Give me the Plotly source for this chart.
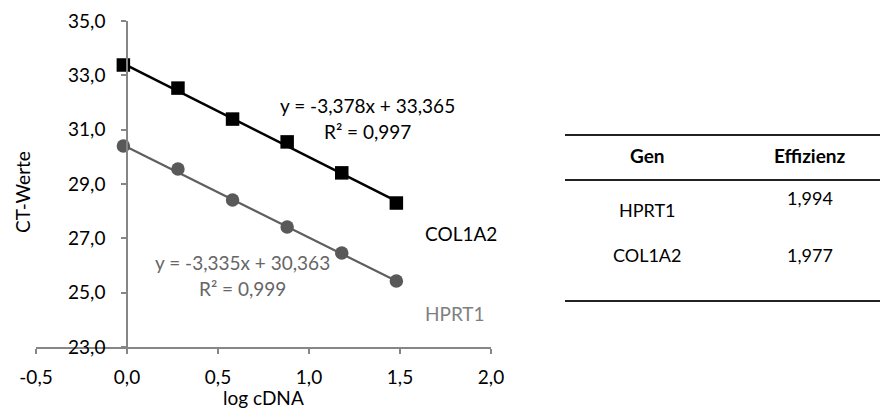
import plotly.graph_objects as go

# ---- data ----
log_cdna = [-0.02, 0.28, 0.58, 0.88, 1.18, 1.48]
ct_col1a2 = [33.38, 32.53, 31.39, 30.55, 29.41, 28.30]
ct_hprt1 = [30.40, 29.55, 28.41, 27.42, 26.46, 25.43]
fit_slopes = {"COL1A2": -3.378, "HPRT1": -3.335}
fit_intercepts = {"COL1A2": 33.365, "HPRT1": 30.363}
fit_r2 = {"COL1A2": "0,997", "HPRT1": "0,999"}

x_tickvals = [-0.5, 0.0, 0.5, 1.0, 1.5, 2.0]
x_ticktext = ["-0,5", "0,0", "0,5", "1,0", "1,5", "2,0"]
y_tickvals = [23, 25, 27, 29, 31, 33, 35]
y_ticktext = ["23,0", "25,0", "27,0", "29,0", "31,0", "33,0", "35,0"]

table_header = ["Gen", "Effizienz"]
table_genes = ["HPRT1", "COL1A2"]
table_eff = ["1,994", "1,977"]

W, H = 880, 408
FONT = "Lato"
FS = 19
TFS = 18


def px(x):
    return x / W


def py(y):
    return 1 - y / H


def num(v):
    return f"{v:.3f}".replace(".", ",")


fig = go.Figure()


def fitline(name):
    xs = [log_cdna[0], log_cdna[-1]]
    ys = [fit_slopes[name] * v + fit_intercepts[name] for v in xs]
    return xs, ys


xs, ys = fitline("HPRT1")
fig.add_trace(go.Scatter(x=xs, y=ys, mode="lines", line=dict(color="#5f5f5f", width=2.2),
                         showlegend=False, hoverinfo="skip"))
xs, ys = fitline("COL1A2")
fig.add_trace(go.Scatter(x=xs, y=ys, mode="lines", line=dict(color="#000000", width=2.5),
                         showlegend=False, hoverinfo="skip"))

fig.add_trace(go.Scatter(x=log_cdna, y=ct_hprt1, mode="markers", name="HPRT1",
                         marker=dict(symbol="circle", size=13.5, color="#595959"),
                         showlegend=False))
fig.add_trace(go.Scatter(x=log_cdna, y=ct_col1a2, mode="markers", name="COL1A2",
                         marker=dict(symbol="square", size=13.5, color="#000000"),
                         showlegend=False))

x0, x1 = 36, 491
y0, y1 = 21, 347
fig.update_layout(
    width=W, height=H,
    margin=dict(l=0, r=0, t=0, b=0, autoexpand=False),
    paper_bgcolor="white", plot_bgcolor="white",
    font=dict(family=FONT, size=FS, color="#000000"),
    xaxis=dict(domain=[px(x0), px(x1)], range=[-0.5, 2.0], tickvals=x_tickvals, ticktext=x_ticktext,
               showgrid=False, zeroline=False, showline=True, linecolor="#868686", linewidth=1.5,
               ticks="outside", ticklen=5, tickcolor="#868686", tickwidth=1.5,
               ticklabelstandoff=7, automargin=False),
    yaxis=dict(domain=[py(y1), py(y0)], range=[23, 35], tickvals=y_tickvals, ticktext=y_ticktext,
               anchor="free", position=px(127),
               showgrid=False, zeroline=False, showline=True, linecolor="#868686", linewidth=1.5,
               ticks="outside", ticklen=5, tickcolor="#868686", tickwidth=1.5,
               ticklabelstandoff=12, automargin=False),
)

ann = []
ann.append(dict(x=px(22), y=py(192), xref="paper", yref="paper", text="CT-Werte", textangle=-90,
                showarrow=False, xanchor="center", yanchor="middle"))
ann.append(dict(x=px(263), y=py(397), xref="paper", yref="paper", text="log cDNA",
                showarrow=False, xanchor="center", yanchor="middle"))

# equations
ann.append(dict(x=px(367), y=py(106), xref="paper", yref="paper",
                text="y = -%sx + %s" % (num(abs(fit_slopes["COL1A2"])), num(fit_intercepts["COL1A2"])),
                showarrow=False, xanchor="center", yanchor="middle", font=dict(color="#000000")))
ann.append(dict(x=px(367), y=py(132), xref="paper", yref="paper", text="R² = " + fit_r2["COL1A2"],
                showarrow=False, xanchor="center", yanchor="middle", font=dict(color="#000000")))
ann.append(dict(x=px(242), y=py(262), xref="paper", yref="paper",
                text="y = -%sx + %s" % (num(abs(fit_slopes["HPRT1"])), num(fit_intercepts["HPRT1"])),
                showarrow=False, xanchor="center", yanchor="middle", font=dict(color="#666666")))
ann.append(dict(x=px(242), y=py(288), xref="paper", yref="paper", text="R² = " + fit_r2["HPRT1"],
                showarrow=False, xanchor="center", yanchor="middle", font=dict(color="#666666")))

# series labels
ann.append(dict(x=px(423), y=py(234), xref="paper", yref="paper", text="COL1A2",
                showarrow=False, xanchor="left", yanchor="middle", font=dict(color="#000000")))
ann.append(dict(x=px(423), y=py(313), xref="paper", yref="paper", text="HPRT1",
                showarrow=False, xanchor="left", yanchor="middle", font=dict(color="#7f7f7f")))

# table
col_x = [647, 810]
for i, h in enumerate(table_header):
    ann.append(dict(x=px(col_x[i]), y=py(155), xref="paper", yref="paper", text="<b>%s</b>" % h,
                    showarrow=False, xanchor="center", yanchor="middle", font=dict(size=TFS + 1)))
row_gene_y = [210, 255]
row_eff_y = [198, 255]
for g, e, gy, ey in zip(table_genes, table_eff, row_gene_y, row_eff_y):
    ann.append(dict(x=px(col_x[0]), y=py(gy), xref="paper", yref="paper", text=g,
                    showarrow=False, xanchor="center", yanchor="middle", font=dict(size=TFS)))
    ann.append(dict(x=px(col_x[1]), y=py(ey), xref="paper", yref="paper", text=e,
                    showarrow=False, xanchor="center", yanchor="middle", font=dict(size=TFS)))

shapes = []
for yy in [135, 180, 301]:
    shapes.append(dict(type="line", xref="paper", yref="paper", x0=px(565), x1=px(880),
                       y0=py(yy), y1=py(yy), line=dict(color="#222222", width=2)))

fig.update_layout(annotations=ann, shapes=shapes)
fig.write_html("out.html", config={"displayModeBar": False},
               post_script="document.body.style.margin='0';document.body.style.padding='0';")
